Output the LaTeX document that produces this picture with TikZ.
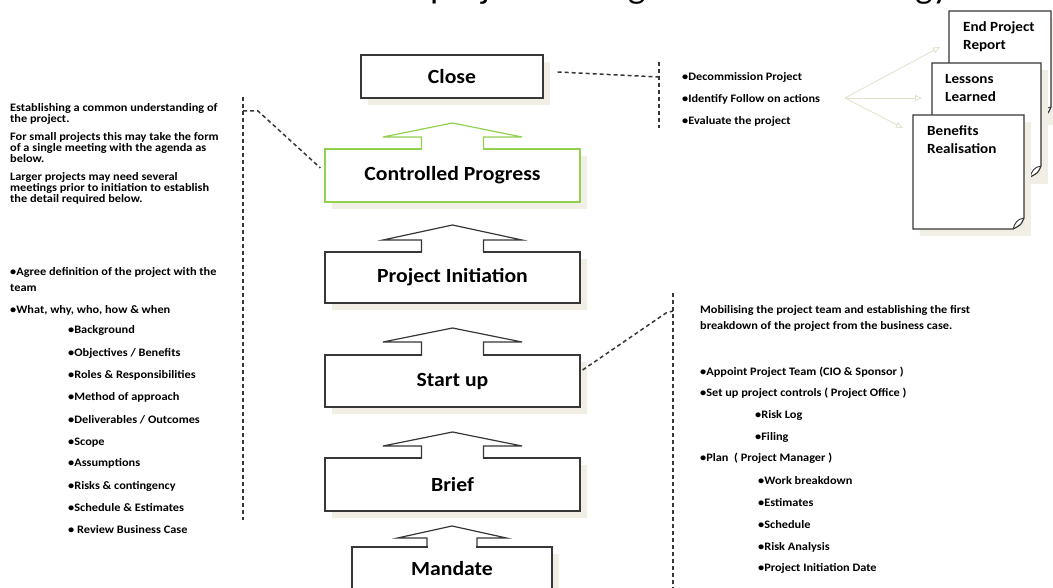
\documentclass[tikz,border=0pt]{standalone}
\usepackage{fontspec}
\setmainfont{Carlito}[FakeStretch=1.08]
\usetikzlibrary{arrows.meta}
\definecolor{edge}{RGB}{55,55,55}
\definecolor{lgreen}{RGB}{146,208,80}
\definecolor{shadowtone}{RGB}{241,239,229}
\definecolor{fantone}{RGB}{226,224,204}
\tikzset{
  stage/.style={draw=edge, line width=1.2pt, fill=white, inner sep=0pt,
    font=\fontsize{20.1}{24}\selectfont\bfseries},
  sm/.style={anchor=base west, inner sep=0pt, font=\fontsize{11.4}{12}\selectfont\bfseries},
  doctext/.style={anchor=base west, inner sep=0pt, font=\fontsize{14}{16}\selectfont\bfseries},
  dline/.style={draw=edge, line width=1.5pt, dash pattern=on 4pt off 3pt},
  fanline/.style={draw=fantone, line width=0.8pt, -{Triangle[open, length=7pt, width=6pt]}},
  page/.style={draw=edge, line width=1.2pt, fill=white},
}
\newcommand\boxshadow[4]{\fill[shadowtone] (#1+7,#2+7) rectangle (#3+7,#4+7);}
% cx, apex y, base y, box top y, head half width, stem half width, colour
\newcommand\hollowup[7]{%
  \fill[white] (#1-#6+0.7,#4+0.9) rectangle (#1+#6-0.7,#3);
  \draw[draw=#7, line width=1.2pt, line join=miter]
    (#1-#6,#4) -- (#1-#6,#3) -- (#1-#5,#3) -- (#1,#2) -- (#1+#5,#3) -- (#1+#6,#3) -- (#1+#6,#4);}
% x1 y1 x2 y2
\newcommand\docpage[4]{%
  \fill[shadowtone] (#1+7,#2+7) rectangle (#3+7,#4+7);
  \draw[page] (#1,#2) -- (#3,#2) -- (#3,#4-11) .. controls (#3-3,#4-4) .. (#3-11,#4) -- (#1,#4) -- cycle;
  \draw[edge, line width=0.9pt] (#3,#4-11) .. controls (#3-7,#4-10) and (#3-9,#4-6) .. (#3-11,#4);}
\begin{document}
\begin{tikzpicture}[x=1pt,y=-1pt]
\useasboundingbox (0,0) rectangle (1053,588);
\clip (0,0) rectangle (1053,588);
\fill[white] (0,0) rectangle (1053,588);

% cut-off title
\node[anchor=base west, inner sep=0pt, font=\fontsize{34}{40}\selectfont] (title) at (430,-1.5) {project management methodology};

% shadows of the stages
\boxshadow{361}{55}{543}{98}
\boxshadow{325}{149}{580}{202}
\boxshadow{325}{252}{580}{303}
\boxshadow{325}{355}{580}{407}
\boxshadow{325}{458}{580}{511}
\boxshadow{352}{547}{552}{590}

% stages
\node[stage, minimum width=182pt, minimum height=43pt] (close) at (452,76.5) {Close};
\node[stage, draw=lgreen, minimum width=255pt, minimum height=53pt] (cp) at (452.5,175.5) {Controlled Progress};
\node[stage, minimum width=255pt, minimum height=51pt] (pi) at (452.5,277.5) {Project Initiation};
\node[stage, minimum width=255pt, minimum height=52pt] (su) at (452.5,381) {Start up};
\node[stage, minimum width=255pt, minimum height=53pt] (brief) at (452.5,484.5) {Brief};
\node[stage, minimum width=200pt, minimum height=43pt] (mandate) at (452,568.5) {Mandate};

% hollow arrows on top of the stages
\hollowup{452.5}{123}{137}{149}{69.5}{31}{lgreen}
\hollowup{452.5}{225}{240}{252}{69.5}{31}{edge}
\hollowup{452.5}{328}{342}{355}{69.5}{31}{edge}
\hollowup{452.5}{432}{446}{458}{69.5}{31}{edge}
\hollowup{452}{526}{538}{547}{54.5}{25}{edge}

% dashed brackets and connectors
\coordinate (rtTop) at (659,62);
\coordinate (rtMid) at (659,77);
\coordinate (rtBot) at (659,128);
\draw[dline] (rtTop) -- (rtBot);
\draw[dline] ([xshift=14pt,yshift=4.5pt]close.east) -- (rtMid);

\coordinate (lTop) at (243,97);
\coordinate (lMid) at (243,111);
\coordinate (lBot) at (243,520);
\coordinate (lBend) at (258,111);
\draw[dline] (lTop) -- (lBot);
\draw[dline] (lMid) -- (lBend) -- ([xshift=-4pt,yshift=7.5pt]cp.west);

\coordinate (rbTop) at (673,293);
\coordinate (rbMid) at (673,311);
\coordinate (rbBot) at (673,590);
\coordinate (rbBend) at (666,313);
\draw[dline] (rbTop) -- (rbBot);
\draw[dline] ([xshift=2pt,yshift=11pt]su.east) -- (rbBend) -- (rbMid);

% left text
\node[sm] (l1) at (10,112) {Establishing a common understanding of};
\node[sm] (l2) at (10,123) {the project.};
\node[sm] (l3) at (10,141) {For small projects this may take the form};
\node[sm] (l4) at (10,152) {of a single meeting with the agenda as};
\node[sm] (l5) at (10,163) {below.};
\node[sm] (l6) at (10,181) {Larger projects may need several};
\node[sm] (l7) at (10,192) {meetings prior to initiation to establish};
\node[sm] (l8) at (10,203) {the detail required below.};
\node[sm] (l9) at (10,276) {•Agree definition of the project with the};
\node[sm] (l10) at (10,291) {team};
\node[sm] (l11) at (10,313) {•What, why, who, how \& when};
\node[sm] (l12) at (68,334) {•Background};
\node[sm] (l13) at (68,356) {•Objectives / Benefits};
\node[sm] (l14) at (68,378) {•Roles \& Responsibilities};
\node[sm] (l15) at (68,400) {•Method of approach};
\node[sm] (l16) at (68,423) {•Deliverables / Outcomes};
\node[sm] (l17) at (68,445) {•Scope};
\node[sm] (l18) at (68,466) {•Assumptions};
\node[sm] (l19) at (68,489) {•Risks \& contingency};
\node[sm] (l20) at (68,511) {•Schedule \& Estimates};
\node[sm] (l21) at (68,533) {• Review Business Case};

% right top text
\node[sm] (c1) at (682,81) {•Decommission Project};
\node[sm] (c2) at (682,103) {•Identify Follow on actions};
\node[sm] (c3) at (682,125) {•Evaluate the project};

% documents
\docpage{949}{11}{1051}{118}
\docpage{932}{63}{1041}{177}
\docpage{913}{115}{1024}{229}
\node[doctext] (d1a) at (963,32) {End Project};
\node[doctext] (d1b) at (963,50) {Report};
\node[doctext] (d2a) at (945,84) {Lessons};
\node[doctext] (d2b) at (945,102) {Learned};
\node[doctext] (d3a) at (927,136) {Benefits};
\node[doctext] (d3b) at (927,154) {Realisation};

% fan of light arrows
\coordinate (fan) at (845,98);
\coordinate (fanA) at (940,47);
\coordinate (fanB) at (922,98);
\coordinate (fanC) at (903,128);
\draw[fanline] (fan) -- (fanA);
\draw[fanline] (fan) -- (fanB);
\draw[fanline] (fan) -- (fanC);

% right bottom text
\node[sm] (s1) at (700,314) {Mobilising the project team and establishing the first};
\node[sm] (s2) at (700,330) {breakdown of the project from the business case.};
\node[sm] (s3) at (700,375) {•Appoint Project Team (CIO \& Sponsor )};
\node[sm] (s4) at (700,396) {•Set up project controls ( Project Office )};
\node[sm] (s5) at (755,418) {•Risk Log};
\node[sm] (s6) at (755,440) {•Filing};
\node[sm] (s7) at (700,461) {•Plan~~( Project Manager )};
\node[sm] (s8) at (758,484) {•Work breakdown};
\node[sm] (s9) at (758,506) {•Estimates};
\node[sm] (s10) at (758,528) {•Schedule};
\node[sm] (s11) at (758,550) {•Risk Analysis};
\node[sm] (s12) at (758,571) {•Project Initiation Date};
\end{tikzpicture}
\end{document}
